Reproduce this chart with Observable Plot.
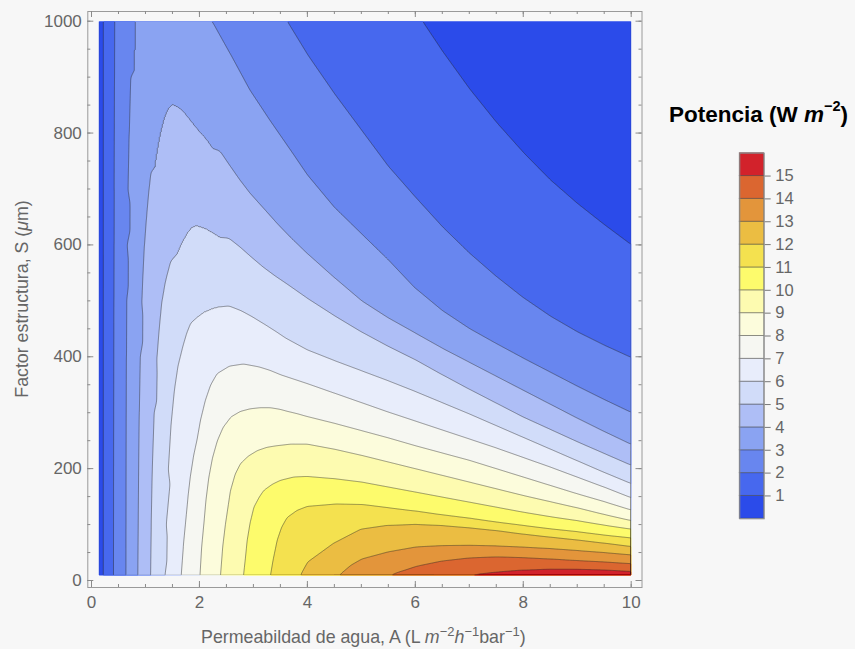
<!DOCTYPE html>
<html>
<head>
<meta charset="utf-8">
<script src="https://cdn.jsdelivr.net/npm/d3@7"></script>
<script src="https://cdn.jsdelivr.net/npm/@observablehq/plot@0.6"></script>
<style>
  html, body { margin: 0; padding: 0; background: #f7f7f7; }
  #wrap { position: relative; width: 855px; height: 649px; overflow: hidden;
          font-family: "Liberation Sans", Arial, sans-serif; }
  #chart { position: absolute; left: 0; top: 0; }
  #legendTitle { position: absolute; left: 669px; top: 101px; font-weight: bold;
                 font-size: 22.5px; color: #000; white-space: nowrap; line-height: 1; }
  #legendTitle sup { font-size: 14.5px; position: relative; top: -2px; }
  #legend { position: absolute; left: 700px; top: 140px; }
</style>
</head>
<body>
<div id="wrap">
  <div id="chart"></div>
  <div id="legendTitle">Potencia (W <i>m</i><sup>−2</sup>)</div>
  <div id="legend"></div>
</div>
<script>
// Power density (W m^-2) as a function of water permeability A and structure factor S.
// Every isoline is given as [A, S] points; the part of a line right of A = 4 is listed
// as S values on the common columns rightA.

const levels = d3.range(1, 16);            // contour levels 1..15
const bandEdges = d3.range(0, 16);          // lower edge of every filled band
const bandColors = [
  "#2b4bea", "#4768ee", "#6886ef", "#8aa3f2", "#aebef6", "#d1dcf9", "#e8edfb", "#f6f7f2",
  "#fcfcdc", "#fdfbb0", "#fdfb6c", "#f4e14f", "#ebbd42", "#e3953b", "#db6630", "#d2222b"
];

const Arange = [0.135, 10];   // A, L m^-2 h^-1 bar^-1
const Srange = [9, 1000];     // S, µm

const rightA = [4, 4.5, 5, 5.5, 6, 6.5, 7, 7.5, 8, 8.5, 9, 9.5, 10];

// near-vertical branches at low permeability
const w1Left = [[0.217, 9], [0.217, 100], [0.217, 200], [0.217, 300], [0.217, 400], [0.217, 500],
                [0.217, 600], [0.217, 700], [0.217, 800], [0.217, 900], [0.217, 1000]];
const w2Left = [[0.405, 9], [0.406, 100], [0.407, 200], [0.409, 300], [0.411, 400], [0.413, 500],
                [0.415, 600], [0.417, 700], [0.42, 800], [0.423, 900], [0.426, 1000]];
const w3Left = [[0.639, 9], [0.64, 100], [0.641, 200], [0.643, 300], [0.646, 400], [0.651, 500],
                [0.66, 600], [0.673, 700], [0.693, 800], [0.72, 900], [0.754, 1000]];

// heads of the remaining isolines (left of A = 4)
const w1Head  = [[6.12, 1000]];
const w2Head  = [[3.62, 1000]];
const w3Head  = [[2.235, 1000], [2.57, 942], [2.94, 876], [3.31, 822], [3.69, 769]];
const w4Head  = [[0.858, 9], [0.865, 100], [0.873, 200], [0.884, 300], [0.902, 400], [0.93, 500], [0.95, 550],
                 [0.975, 600], [1.012, 650], [1.058, 700], [1.092, 730], [1.133, 760], [1.17, 782], [1.205, 800],
                 [1.243, 816], [1.283, 830], [1.328, 842], [1.37, 850], [1.43, 856], [1.49, 858], [1.55, 857],
                 [1.65, 853], [1.74, 846], [1.83, 836], [2.0, 815], [2.2, 793], [2.38, 768], [2.57, 741],
                 [2.75, 716], [2.94, 692], [3.2, 664], [3.44, 638], [3.7, 612]];
const w5Head  = [[1.093, 9], [1.105, 100], [1.125, 200], [1.16, 300], [1.21, 400], [1.25, 450], [1.3, 500],
                 [1.35, 528], [1.403, 550], [1.46, 571], [1.525, 590], [1.6, 606], [1.71, 626], [1.8, 637],
                 [1.927, 642], [2.05, 639], [2.17, 635], [2.33, 626], [2.55, 612], [2.76, 596], [2.97, 578],
                 [3.19, 560], [3.4, 545], [3.6, 532]];
const w6Head  = [[1.361, 9], [1.385, 100], [1.42, 200], [1.47, 280], [1.53, 340], [1.6, 385], [1.69, 420],
                 [1.76, 443], [1.83, 460], [1.92, 474], [2.02, 485], [2.18, 492], [2.357, 495], [2.55, 491],
                 [2.76, 483], [2.97, 472], [3.19, 459], [3.4, 446], [3.6, 433]];
const w7Head  = [[1.661, 9], [1.7, 60], [1.741, 101], [1.785, 145], [1.833, 185], [1.89, 220], [1.957, 250],
                 [2.03, 290], [2.111, 322], [2.21, 350], [2.328, 370], [2.55, 383], [2.82, 387], [3.1, 382],
                 [3.3, 376], [3.5, 368], [3.75, 360]];
const w8Head  = [[2.009, 9], [2.04, 60], [2.08, 101], [2.12, 145], [2.172, 185], [2.24, 220], [2.328, 250],
                 [2.44, 275], [2.574, 292], [2.75, 302], [2.944, 307], [3.13, 309], [3.315, 309], [3.5, 306],
                 [3.65, 302], [3.82, 298]];
const w9Head  = [[2.389, 9], [2.43, 60], [2.481, 101], [2.574, 161], [2.66, 190], [2.759, 209], [2.9, 222],
                 [3.069, 232], [3.25, 238], [3.439, 241], [3.7, 244]];
const w10Head = [[2.815, 9], [2.85, 40], [2.883, 72], [2.94, 105], [3.006, 131], [3.1, 148], [3.191, 161],
                 [3.35, 172], [3.5, 179], [3.75, 185]];
const w11Head = [[3.315, 9], [3.37, 40], [3.439, 72], [3.52, 95], [3.624, 113], [3.8, 128]];
const w12Head = [[3.87, 9], [3.93, 20]];
const w13Head = [[4.58, 9], [4.8, 27]];
const w14Head = [[5.506, 9], [5.75, 17]];
const w15Head = [[6.898, 9]];

// S of every isoline on the rightA columns (null: the line is not present there)
const w1Tail  = [null, null, null, null, null, 945, 878, 818, 764, 715, 673, 635, 599];
const w2Tail  = [940, 870, 805, 740, 685, 632, 585, 543, 505, 472, 444, 420, 398];
const w3Tail  = [725, 667, 620, 573, 522, 482, 450, 423, 397, 372, 347, 323, 300];
const w4Tail  = [584, 541, 500, 469, 442, 415, 390, 365, 340, 315, 290, 266, 243];
const w5Tail  = [505, 474, 445, 419, 395, 368, 342, 317, 292, 270, 248, 227, 206];
const w6Tail  = [412, 393, 375, 357, 338, 318, 298, 277, 256, 235, 214, 193, 173];
const w7Tail  = [352, 335, 318, 301, 285, 269, 253, 237, 220, 203, 185, 167, 148];
const w8Tail  = [293, 281, 268, 255, 241, 228, 215, 200, 185, 170, 155, 141, 126];
const w9Tail  = [244, 235, 224, 212, 200, 188, 176, 164, 152, 141, 130, 118, 107];
const w10Tail = [186, 182, 176, 167, 158, 149, 140, 131, 122, 114, 107, 99, 92];
const w11Tail = [133, 137, 136, 130, 124, 117, 111, 104, 98, 92, 87, 81, 76];
const w12Tail = [32, 67, 92, 99, 101, 99, 95, 90, 83.5, 78, 72.8, 67, 60.8];
const w13Tail = [null, null, 38, 51, 59.5, 62, 62.5, 61.5, 59.5, 57, 53.6, 50, 45.9];
const w14Tail = [null, null, null, null, 25, 35, 40.5, 42.5, 41, 38.5, 35.5, 33, 29.9];
const w15Tail = [null, null, null, null, null, null, 11.5, 16, 19.5, 21, 20.5, 19, 16.1];

// power at the corners of the computed domain: [A, S, W]
const cornerPower = [[0.135, 9, 0.5], [0.135, 1000, 0.5], [10, 1000, 0.5], [10, 9, 15.5]];

const joinLine = (head, tail) => {
  const pts = head.slice();
  if (tail) tail.forEach((s, i) => { if (s != null) pts.push([rightA[i], s]); });
  return pts;
};

const isolines = [
  [1, joinLine(w1Left)], [1, joinLine(w1Head, w1Tail)],
  [2, joinLine(w2Left)], [2, joinLine(w2Head, w2Tail)],
  [3, joinLine(w3Left)], [3, joinLine(w3Head, w3Tail)],
  [4, joinLine(w4Head, w4Tail)], [5, joinLine(w5Head, w5Tail)], [6, joinLine(w6Head, w6Tail)],
  [7, joinLine(w7Head, w7Tail)], [8, joinLine(w8Head, w8Tail)], [9, joinLine(w9Head, w9Tail)],
  [10, joinLine(w10Head, w10Tail)], [11, joinLine(w11Head, w11Tail)], [12, joinLine(w12Head, w12Tail)],
  [13, joinLine(w13Head, w13Tail)], [14, joinLine(w14Head, w14Tail)], [15, joinLine(w15Head, w15Tail)]
];

const field = [];
for (const [w, pts] of isolines) for (const [A, S] of pts) field.push({A, S, W: w});
for (const [A, S, w] of cornerPower) field.push({A, S, W: w});

// band edges sit a hair below each level so that stretches lying exactly on a level stay inside it
const eps = 1e-6;
const edges = bandEdges.map(d => d - eps);
const colorScale = {type: "threshold", domain: levels.map(d => d - eps), range: bandColors};

// axis ticks
const xMajor = [0, 2, 4, 6, 8, 10];
const xMinor = d3.range(0, 10.01, 0.5);
const yMajor = [0, 200, 400, 600, 800, 1000];
const yMinor = d3.range(0, 1001, 50);

// frame geometry (pixels)
const W = 660, H = 649;
const fL = 87.3, fR = 641.5, fT = 11, fB = 587;
const fW = fR - fL, fH = fB - fT;
const tickCol = "#8a8a8a";

const contourOpts = {
  x: "A", y: "S", fill: "W", thresholds: edges, interpolate: "barycentric",
  x1: Arange[0], x2: Arange[1], y1: Srange[0], y2: Srange[1], pixelSize: 1, blur: 1
};

const chart = Plot.plot({
  width: W, height: H,
  marginLeft: fL, marginRight: W - fR, marginTop: fT, marginBottom: H - fB,
  style: {background: "transparent", color: "#666", fontFamily: "'Liberation Sans', Arial, sans-serif", fontSize: "17px"},
  x: {domain: [0, 10], range: [91, 630.7], axis: null},
  y: {domain: [0, 1000], range: [580, 20.7], axis: null},
  color: colorScale,
  marks: [
    Plot.contour(field, {...contourOpts, stroke: "none"}),
    Plot.contour(field, {...contourOpts, fill: null, value: "W", stroke: "#262626", strokeOpacity: 0.55, strokeWidth: 0.85}),
    Plot.frame({stroke: "#9a9a9a", strokeWidth: 1}),
    // inward ticks on all four sides
    Plot.ruleX(xMinor, {x: d => d, insetTop: fH - 3, stroke: tickCol}),
    Plot.ruleX(xMajor, {x: d => d, insetTop: fH - 6, stroke: tickCol}),
    Plot.ruleX(xMinor, {x: d => d, insetBottom: fH - 3, stroke: tickCol}),
    Plot.ruleX(xMajor, {x: d => d, insetBottom: fH - 6, stroke: tickCol}),
    Plot.ruleY(yMinor, {y: d => d, insetRight: fW - 3, stroke: tickCol}),
    Plot.ruleY(yMajor, {y: d => d, insetRight: fW - 6, stroke: tickCol}),
    Plot.ruleY(yMinor, {y: d => d, insetLeft: fW - 3, stroke: tickCol}),
    Plot.ruleY(yMajor, {y: d => d, insetLeft: fW - 6, stroke: tickCol}),
    Plot.axisX({ticks: xMajor, tickSize: 0, tickPadding: 8, label: null, fontSize: 17, tickFormat: "d"}),
    Plot.axisY({ticks: yMajor, tickSize: 0, tickPadding: 6, label: null, fontSize: 17, tickFormat: "d"})
  ]
});
document.getElementById("chart").appendChild(chart);

// clip the isoline strokes to the computed domain so the raster border is not outlined
const svg = d3.select(chart);
const sx = chart.scale("x"), sy = chart.scale("y");
const cx0 = sx.apply(Arange[0]) + 0.7, cx1 = sx.apply(Arange[1]) - 0.7;
const cy0 = sy.apply(Srange[1]) + 0.7, cy1 = sy.apply(Srange[0]) - 0.7;
svg.append("defs").append("clipPath").attr("id", "fieldClip")
  .append("rect").attr("x", cx0).attr("y", cy0).attr("width", cx1 - cx0).attr("height", cy1 - cy0);
const contourGroups = svg.selectAll('g[aria-label="contour"]').nodes();
d3.select(contourGroups[contourGroups.length - 1]).attr("clip-path", "url(#fieldClip)");

// axis titles with italic units and superscripts
const sup = (t, s) => { t.append("tspan").attr("dy", -7).attr("font-size", 13).text(s); };
const xl = svg.append("text").attr("x", (fL + fR) / 2 - 1).attr("y", 643)
  .attr("text-anchor", "middle").attr("fill", "#666").attr("font-size", 17.8);
xl.append("tspan").text("Permeabildad de agua, A (L ");
xl.append("tspan").attr("font-style", "italic").text("m");
sup(xl, "−2");
xl.append("tspan").attr("dy", 7).attr("font-style", "italic").text("h");
sup(xl, "−1");
xl.append("tspan").attr("dy", 7).text("bar");
sup(xl, "−1");
xl.append("tspan").attr("dy", 7).text(")");

const yl = svg.append("text").attr("transform", `translate(28, ${(fT + fB) / 2}) rotate(-90)`)
  .attr("text-anchor", "middle").attr("fill", "#666").attr("font-size", 17.8);
yl.append("tspan").text("Factor estructura, S (");
yl.append("tspan").attr("font-style", "italic").text("μ");
yl.append("tspan").text("m)");

// vertical colour bar
const lw = 120, lh = 420, barTop = 12.7, barH = 365.6, barL = 39.3, barW = 24.4;
const legend = Plot.plot({
  width: lw, height: lh,
  marginLeft: barL, marginRight: lw - barL - barW, marginTop: barTop, marginBottom: lh - barTop - barH,
  style: {background: "transparent", color: "#666", fontFamily: "'Liberation Sans', Arial, sans-serif", fontSize: "16.5px"},
  x: {domain: [0, 1], axis: null},
  y: {domain: [0, 16], axis: null},
  color: colorScale,
  marks: [
    Plot.rect(bandEdges, {x1: 0, x2: 1, y1: d => d, y2: d => d + 1, fill: d => d,
                          stroke: "#3a3a3a", strokeOpacity: 0.45, strokeWidth: 1}),
    Plot.frame({stroke: "#8a8a8a"}),
    Plot.axisY({anchor: "right", ticks: levels, tickSize: 6, tickPadding: 5, label: null, fontSize: 16.5, stroke: "#777"})
  ]
});
document.getElementById("legend").appendChild(legend);
</script>
</body>
</html>
